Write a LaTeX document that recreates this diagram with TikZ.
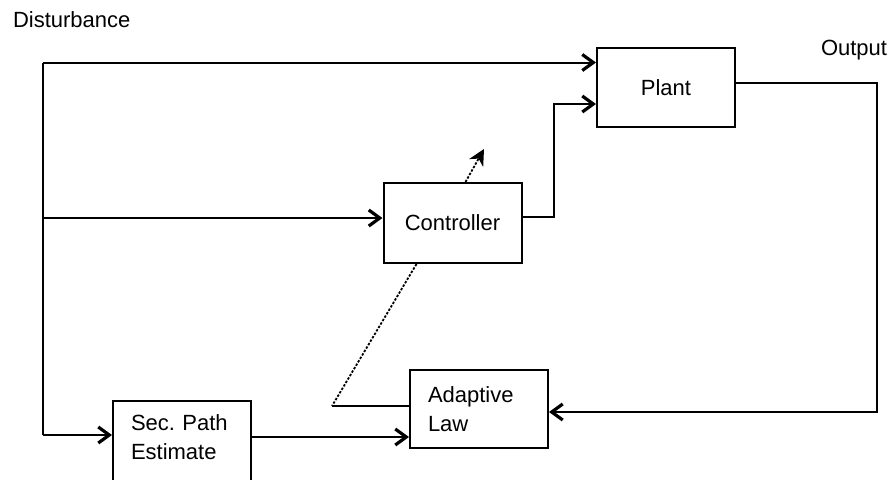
\documentclass[tikz,border=0pt]{standalone}
\usepackage{fontspec}
\setmainfont{Liberation Sans}
\usetikzlibrary{arrows.meta,calc}
\begin{document}
\begin{tikzpicture}[x=0.5pt,y=-0.5pt,
  line width=1pt,
  blk/.style={draw,line width=1pt,minimum width=69pt,inner sep=0pt,font=\fontsize{11pt}{14.5pt}\selectfont},
  arr/.style={-{Straight Barb[length=5.5pt,width=8pt,line width=1.6pt]}},
  dsh/.style={dash pattern=on 1.2pt off 0.8pt,line width=0.9pt},
  lbl/.style={font=\fontsize{11pt}{13pt}\selectfont,inner sep=0pt,anchor=west}]
\useasboundingbox (0,0) rectangle (891,479);
\clip (0,0) rectangle (891,479);
% blocks
\node[blk,minimum height=39.5pt] (plant) at (666,87.5) {Plant};
\node[blk,minimum height=40pt] (ctrl) at (452.5,223) {Controller};
\node[blk,minimum height=39pt,text width=51pt,align=left] (adapt) at (479,409) {Adaptive\\Law};
\node[blk,minimum height=42pt,text width=51pt,align=left,text depth=20pt] (sec) at (182,443) {\mbox{Sec.\ Path}\\Estimate};
% labels
\node[lbl] (dist) at (12,19.5) {Disturbance};
\node[lbl] (out) at (820,50) {Output};
% coordinates
\coordinate (dtop) at (43,62.5);
\coordinate (dmid) at (43,218);
\coordinate (dbot) at (43,435);
\coordinate (c1) at (554,217);
\coordinate (c2) at (554,104);
\coordinate (o1) at (877,83);
\coordinate (o2) at (877,412);
\coordinate (s1) at (300,437);
\coordinate (d1) at ($(ctrl.south west)+(34,0)$);
\coordinate (d2) at (332,406);
\coordinate (u1) at ($(ctrl.north west)+(83,0)$);
\coordinate (tip) at (484,149);
% connectors
\draw (dtop) -- (dbot);
\draw[arr] (dtop) -- (dtop -| plant.west);
\draw[arr] (dmid) -- (dmid -| ctrl.west);
\draw[arr] (dbot) -- (dbot -| sec.west);
\draw[arr] (c1 -| ctrl.east) -- (c1) -- (c2) -- (c2 -| plant.west);
\draw[arr] (o1 -| plant.east) -- (o1) -- (o2) -- (o2 -| adapt.east);
\draw[arr] (s1 -| sec.east) -- (s1 -| adapt.west);
\draw[dsh] (d1) -- (d2);
\draw (d2) -- (d2 -| adapt.west);
\draw[dsh,-{Stealth[length=8pt,width=8pt,inset=2.5pt]}] (u1) -- (tip);
\end{tikzpicture}
\end{document}
